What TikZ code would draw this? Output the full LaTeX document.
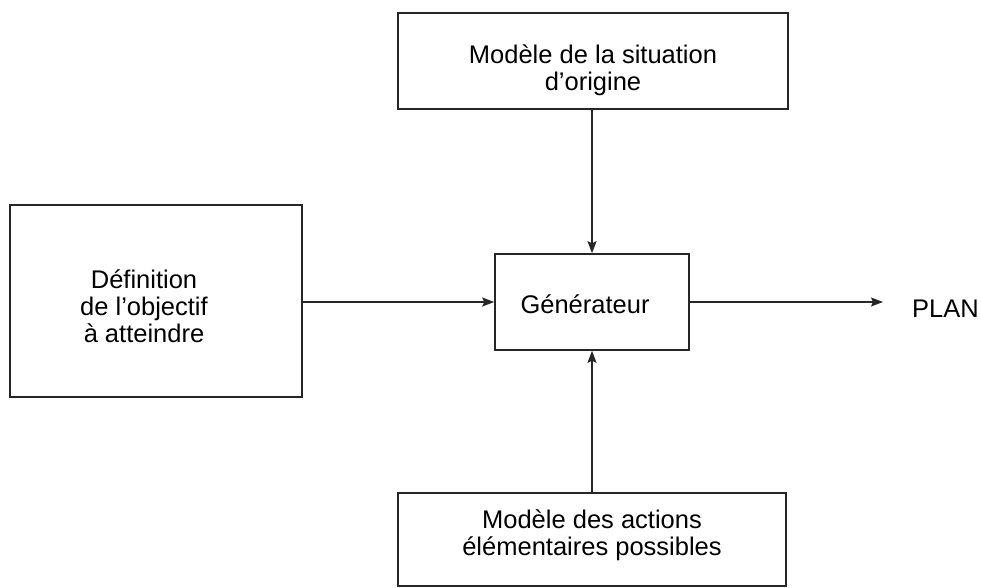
\documentclass[tikz,border=0pt]{standalone}
\usepackage{fontspec}
\setmainfont{Liberation Sans}
\usetikzlibrary{arrows.meta}
\begin{document}
\begin{tikzpicture}[x=1pt,y=-1pt,
  box/.style={draw=black!85, line width=1.6pt, inner sep=0pt},
  conn/.style={draw=black!85, line width=1.4pt, -{Stealth[length=12pt,width=9pt,inset=2pt]}},
  lbl/.style={inner sep=0pt, anchor=base, font=\fontsize{25.5}{27}\selectfont}]
\useasboundingbox (0,0) rectangle (981,588);
% boxes
\node[box, minimum width=390pt, minimum height=96pt] (orig) at (593,61) {};
\node[box, minimum width=292pt, minimum height=192pt] (obj) at (156,301) {};
\node[box, minimum width=194pt, minimum height=96pt] (gen) at (592,302) {};
\node[box, minimum width=388pt, minimum height=93pt] (act) at (592,539.5) {};
% texts
\node[lbl] (origtxt) at (593,64) {\begin{tabular}[t]{@{}c@{}}Modèle de la situation\\ d’origine\end{tabular}};
\node[lbl] (objtxt) at (144,288) {\begin{tabular}[t]{@{}c@{}}Définition\\ de l’objectif\\ à atteindre\end{tabular}};
\node[lbl] (gentxt) at (585,313) {Générateur};
\node[lbl] (acttxt) at (592,528) {\begin{tabular}[t]{@{}c@{}}Modèle des actions\\ élémentaires possibles\end{tabular}};
\node[lbl, anchor=base west] (plan) at (912,317) {PLAN};
% connectors
\draw[conn] (orig.south -| gen.north) -- (gen.north);
\draw[conn] (obj.east |- gen.west) -- (gen.west);
\draw[conn] (act.north) -- (act.north |- gen.south);
\draw[conn] (gen.east) -- ([xshift=-29pt]gen.east -| plan.west);
\end{tikzpicture}
\end{document}
